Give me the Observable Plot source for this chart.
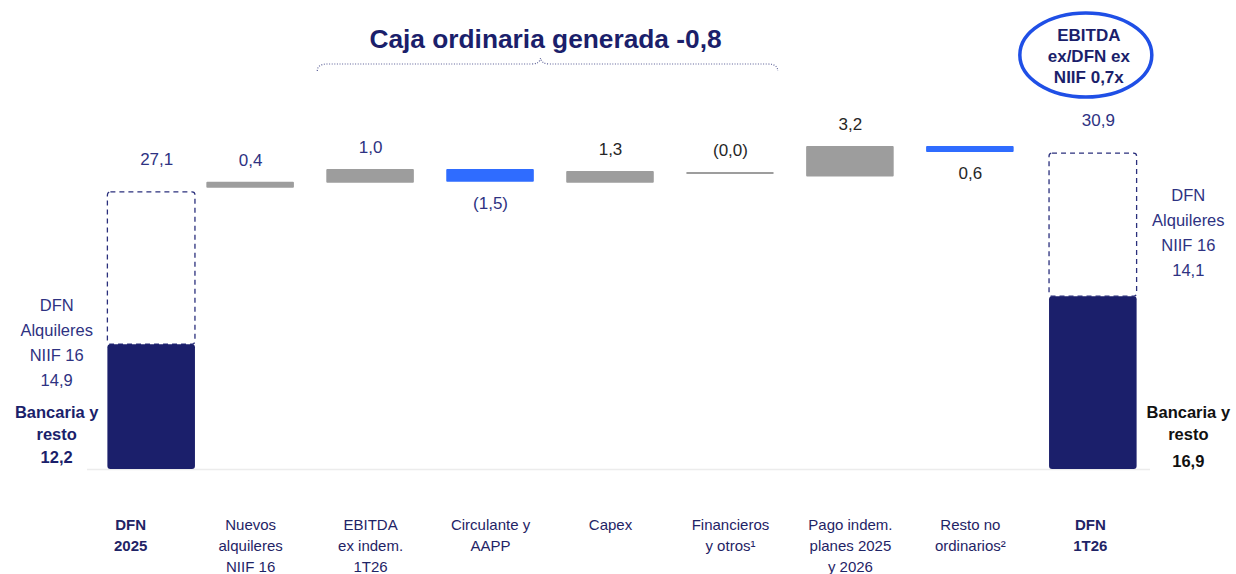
<!DOCTYPE html>
<html>
<head>
<meta charset="utf-8">
<script src="https://cdn.jsdelivr.net/npm/d3@7"></script>
<script src="https://cdn.jsdelivr.net/npm/@observablehq/plot@0.6"></script>
<style>
  html, body { margin: 0; padding: 0; background: #fff; }
  svg { display: block; }
</style>
</head>
<body>
<div id="chart"></div>
<script>
// ---------- data ----------
const categories = [
  "DFN\n2025",
  "Nuevos\nalquileres\nNIIF 16",
  "EBITDA\nex indem.\n1T26",
  "Circulante y\nAAPP",
  "Capex",
  "Financieros\ny otros¹",
  "Pago indem.\nplanes 2025\ny 2026",
  "Resto no\nordinarios²",
  "DFN\n1T26"
];
const valueLabels = ["27,1", "0,4", "1,0", "(1,5)", "1,3", "(0,0)", "3,2", "0,6", "30,9"];
// bar extents as drawn in the reference (miles de millones)
const barFrom = [0, 27.5, 28.0, 28.1, 28.0, 28.85, 28.6, 31.0, 0];
const barTo   = [27.1, 28.1, 29.35, 29.35, 29.15, 29.05, 31.6, 31.6, 30.9];
const barKind = ["total", "aumento", "aumento", "disminución", "aumento", "aumento", "aumento", "disminución", "total"];
// split of the two totals
const bankDebt = [12.2, 16.9];
const bankLabels = ["12,2", "16,9"];
const leaseLabels = ["14,9", "14,1"];
const leaseText = "DFN\nAlquileres\nNIIF 16";
const bankText = "Bancaria y\nresto";
const boldCategories = [categories[0], categories[8]];
const titleText = "Caja ordinaria generada -0,8";
const braceFrom = categories[2];
const braceTo = categories[5];
const ratioLines = ["EBITDA", "ex/DFN ex", "NIIF 0,7x"];

// ---------- styles ----------
const navy = "#1b1f6b";
const labelNavy = "#2e3282";
const labelDark = "#262626";
const catColor = "#1f2466";
const font = "'Liberation Sans', Arial, Helvetica, sans-serif";

const rows = categories.map((cat, i) => ({cat, i, from: barFrom[i], to: barTo[i], kind: barKind[i], label: valueLabels[i]}));
const deltas = rows.filter(d => d.kind !== "total");
const ups = deltas.filter(d => d.kind === "aumento");
const downs = deltas.filter(d => d.kind === "disminución");
const totals = rows.filter(d => d.kind === "total").map((d, j) => ({
  ...d, bank: bankDebt[j], bankLabel: bankLabels[j], leaseLabel: leaseLabels[j]
}));
const darkLabelCats = new Set([categories[4], categories[5], categories[6], categories[7]]);
const tone = d => darkLabelCats.has(d.cat) ? labelDark : labelNavy;

const totalShift = [21, 3];
const sideShift = [-74, 98];
const bankColor = [navy, "#111111"];
const bankValueDy = [-7, -3];

const totalMarks = totals.flatMap((t, j) => [
  Plot.rectY([t], {x: "cat", y1: "bank", y2: "to", fill: "white", stroke: "#2a2f7c",
    strokeWidth: 1.3, strokeDasharray: "5,4", rx: 3, dx: totalShift[j]}),
  Plot.rectY([t], {x: "cat", y1: 0, y2: "bank", fill: navy, rx: 3, dx: totalShift[j]}),
  Plot.text([t], {x: "cat", y: "to", text: "label", dy: -33, dx: totalShift[j] + 5,
    fill: labelNavy, fontSize: 17}),
  Plot.text([t], {x: "cat", y: d => j === 0 ? d.bank : (d.bank + d.to) / 2,
    text: d => leaseText + "\n" + d.leaseLabel, dx: sideShift[j], dy: j === 0 ? -4 : 5,
    lineAnchor: "middle", lineHeight: 1.52, fill: labelNavy, fontSize: 16.5}),
  Plot.text([t], {x: "cat", y: 0, text: () => bankText, dx: sideShift[j], dy: -30,
    lineAnchor: "bottom", lineHeight: 1.3, fill: bankColor[j], fontSize: 16.5, fontWeight: "bold"}),
  Plot.text([t], {x: "cat", y: 0, text: "bankLabel", dx: sideShift[j], dy: bankValueDy[j],
    lineAnchor: "bottom", fill: bankColor[j], fontSize: 16.5, fontWeight: "bold"})
]);

const catOptions = {
  x: d => d, text: d => d, frameAnchor: "bottom", lineAnchor: "top", dy: 45,
  fontSize: 15, lineHeight: 1.42, fill: catColor
};

const plot = Plot.plot({
  width: 1236,
  height: 574,
  marginTop: 60,
  marginBottom: 105,
  marginLeft: 54,
  marginRight: 70,
  style: {fontFamily: font, background: "white"},
  x: {domain: categories, padding: 0.27, round: false, axis: null},
  y: {domain: [0, 40], axis: null},
  color: {domain: ["aumento", "disminución"], range: ["#9d9d9d", "#2f6cff"]},
  marks: [
    Plot.ruleY([0], {stroke: "#ececec", strokeWidth: 1.5, insetLeft: 33, insetRight: 16}),
    ...totalMarks,
    Plot.rectY(deltas, {x: "cat", y1: "from", y2: "to", fill: "kind", rx: 1}),
    Plot.text(ups, {x: "cat", y: "to", text: "label", dy: -22, fill: tone, fontSize: 17}),
    Plot.text(downs, {x: "cat", y: "from", text: "label", dy: 21, fill: tone, fontSize: 17}),
    Plot.text(categories.filter(c => !boldCategories.includes(c)), catOptions),
    Plot.text(boldCategories, {...catOptions, fontWeight: "bold"})
  ]
});

// ---------- title, brace and ratio bubble, positioned with the plot's x scale ----------
const xs = plot.scale("x");
const bw = xs.bandwidth;
const svg = d3.select(plot);
const bx1 = xs.apply(braceFrom) - 9;
const bx2 = xs.apply(braceTo) + bw + 4;
const bm = (bx1 + bx2) / 2 - 7;
const yl = 64, yEnd = 71, yPeak = 58;
const p = d3.path();
p.moveTo(bx1, yEnd);
p.quadraticCurveTo(bx1, yl, bx1 + 10, yl);
p.lineTo(bm - 9, yl);
p.quadraticCurveTo(bm - 1, yl, bm, yPeak);
p.quadraticCurveTo(bm + 1, yl, bm + 9, yl);
p.lineTo(bx2 - 10, yl);
p.quadraticCurveTo(bx2, yl, bx2, yEnd);
svg.append("path").attr("d", p.toString()).attr("fill", "none")
  .attr("stroke", "#5a5e96").attr("stroke-width", 1.2).attr("stroke-dasharray", "1,1.6");
svg.append("text").attr("x", bm + 5).attr("y", 48).attr("text-anchor", "middle")
  .attr("font-family", font).attr("font-size", 26.3).attr("font-weight", "bold")
  .attr("fill", navy).text(titleText);

const ex = xs.apply(categories[8]) + bw / 2 + totalShift[1] - 7;
svg.append("ellipse").attr("cx", ex).attr("cy", 55).attr("rx", 66).attr("ry", 42)
  .attr("fill", "white").attr("stroke", "#1f4fe6").attr("stroke-width", 3.5);
ratioLines.forEach((t, k) => {
  svg.append("text").attr("x", ex + 3).attr("y", 35 + k * 21).attr("dy", "0.35em")
    .attr("text-anchor", "middle").attr("font-family", font).attr("font-size", 17)
    .attr("font-weight", "bold").attr("fill", navy).text(t);
});

document.getElementById("chart").appendChild(plot);
</script>
</body>
</html>
